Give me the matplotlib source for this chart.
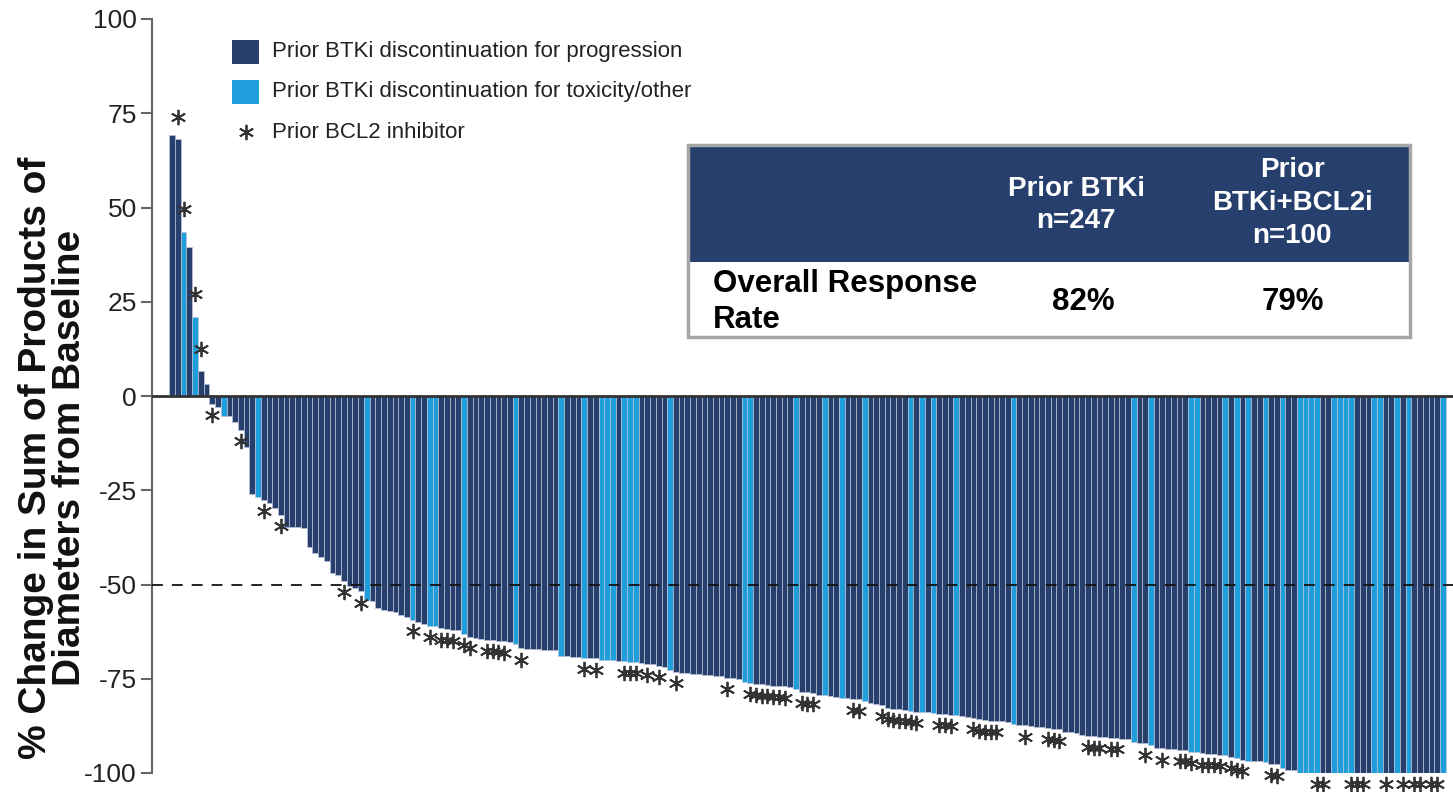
import numpy as np
import matplotlib
matplotlib.use("Agg")
import matplotlib.pyplot as plt
from matplotlib.patches import Rectangle

plt.rcParams['font.family'] = ['Liberation Sans', 'DejaVu Sans']
plt.rcParams['axes.unicode_minus'] = False

# Best % change in SPD from baseline, one bar per patient (sorted)
change = [
    69.2, 68.1, 43.6, 39.6, 21.0, 6.5, 3.3, -2.0, -2.8, -5.3,
    -5.3, -6.8, -9.0, -13.4, -26.1, -26.7, -27.6, -28.5, -29.8, -31.6,
    -34.7, -34.7, -34.8, -35.0, -40.0, -41.7, -42.6, -43.7, -47.0, -47.6,
    -49.0, -50.4, -51.0, -51.8, -54.1, -54.3, -56.3, -56.8, -57.0, -57.3,
    -58.1, -58.7, -59.4, -59.9, -60.6, -60.9, -60.9, -61.6, -61.8, -62.0,
    -62.2, -63.1, -63.8, -64.3, -64.5, -64.6, -64.7, -64.9, -65.1, -65.3,
    -65.8, -66.9, -67.0, -67.1, -67.2, -67.3, -67.4, -67.5, -68.9, -69.0,
    -69.1, -69.2, -69.4, -69.5, -69.6, -69.9, -70.0, -70.1, -70.3, -70.4,
    -70.5, -70.6, -70.9, -71.0, -71.1, -71.6, -71.9, -72.8, -73.1, -73.4,
    -73.6, -73.7, -73.8, -73.9, -74.0, -74.2, -74.4, -74.7, -74.9, -75.0,
    -75.9, -76.0, -76.4, -76.5, -76.7, -76.8, -76.9, -77.0, -77.2, -77.8,
    -78.4, -78.6, -78.8, -79.2, -79.4, -79.6, -79.8, -80.0, -80.1, -80.3,
    -80.5, -80.8, -81.5, -81.7, -82.0, -82.8, -83.0, -83.1, -83.2, -83.5,
    -83.7, -83.8, -83.9, -84.1, -84.3, -84.4, -84.5, -84.7, -84.9, -85.1,
    -85.4, -85.8, -86.0, -86.1, -86.2, -86.3, -86.5, -87.0, -87.3, -87.4,
    -87.5, -87.8, -87.9, -88.0, -88.2, -88.4, -89.0, -89.2, -89.5, -89.8,
    -90.2, -90.3, -90.4, -90.5, -90.6, -90.7, -90.9, -91.0, -91.7, -92.0,
    -92.1, -92.6, -93.3, -93.5, -93.6, -93.7, -93.8, -93.9, -94.3, -94.4,
    -94.8, -94.9, -95.0, -95.1, -95.2, -95.7, -96.1, -96.5, -96.7, -96.8,
    -96.9, -97.2, -97.5, -97.7, -98.6, -99.2, -99.2, -100, -100, -100,
    -100, -100, -100, -100, -100, -100, -100, -100, -100, -100,
    -100, -100, -100, -100, -100, -100, -100, -100, -100, -100,
    -100, -100, -100,
]

# patients who stopped BTKi for toxicity/other (the rest: progression)
toxicity_idx = [2, 4, 9, 15, 34, 42, 45, 46, 51, 60, 68, 72, 75, 76, 77,
                79, 80, 81, 87, 100, 101, 109, 114, 117, 121, 129, 131, 133,
                137, 147, 168, 171, 178, 179, 184, 186, 188, 191, 194, 197,
                198, 199, 200, 203, 204, 205, 206, 210, 211, 214, 216, 222]

# patients with a prior BCL2 inhibitor
bcl2_idx = [1, 2, 4, 5, 7, 12, 16, 19, 30, 33, 42, 45, 47, 48, 49, 51, 52,
            55, 56, 57, 58, 61, 72, 74, 79, 80, 81, 83, 85, 88, 97, 101, 102,
            103, 104, 105, 106, 107, 110, 111, 112, 119, 120, 124, 125, 126,
            127, 128, 129, 130, 134, 135, 136, 140, 141, 142, 143, 144, 149,
            153, 154, 155, 160, 161, 162, 164, 165, 170, 173, 176, 177, 178,
            180, 181, 182, 183, 185, 186, 187, 192, 193, 200, 201, 206, 207,
            208, 212, 215, 217, 218, 220, 221]

legend_labels = ["Prior BTKi discontinuation for progression",
                 "Prior BTKi discontinuation for toxicity/other",
                 "Prior BCL2 inhibitor"]
yticks = [100, 75, 50, 25, 0, -25, -50, -75, -100]

table_header = ["Prior BTKi\nn=247", "Prior\nBTKi+BCL2i\nn=100"]
table_row = ["Overall Response\nRate", "82%", "79%"]

NAVY = "#263f6d"
SKY = "#1e9fdb"
STAR = "#333333"

W, H = 1453, 792
fig = plt.figure(figsize=(W / 100, H / 100), dpi=100)


def fx(px):
    return px / W


def fy(py):
    return 1 - py / H


ax = fig.add_axes([fx(152), fy(773), fx(1453) - fx(152), fy(19) - fy(773)])

x = np.arange(len(change))
vals = np.array(change)
colors = np.array([NAVY] * len(change), dtype=object)
colors[toxicity_idx] = SKY
ax.bar(x, vals, width=1.0, color=list(colors), edgecolor="#b9c3d8",
       linewidth=0.5, zorder=2)

# asterisks sit just past the end of each bar
sx = np.array(bcl2_idx)
sv = vals[sx]
sy = np.where(sv > 0, sv + 6, sv - 3)
ax.plot(sx, sy, linestyle="none", marker=(6, 2, 0), ms=11, mew=1.3,
        color=STAR, clip_on=False, zorder=4)

ax.axhline(0, color="#333333", lw=2, zorder=3)
ax.axhline(-50, color="#111111", lw=1.3, dashes=(6, 5), zorder=3)

ax.set_xlim(-3.52, 223.78)
ax.set_ylim(-100, 100)
ax.set_yticks(yticks)
ax.set_yticklabels([str(t) for t in yticks])
ax.set_xticks([])
for s in ["top", "right", "bottom"]:
    ax.spines[s].set_visible(False)
ax.spines["left"].set_color("#666666")
ax.spines["left"].set_linewidth(1.5)
ax.tick_params(axis="y", direction="out", length=8, width=1.5,
               color="#666666", labelsize=19, labelcolor="#222222", pad=3)

fig.text(fx(53), fy(458), "% Change in Sum of Products of\nDiameters from Baseline",
         rotation=90, ha="center", va="center", multialignment="center",
         fontsize=28, fontweight="bold", linespacing=0.95, color="#111111")

# legend, drawn by hand
for i, (lab, col) in enumerate(zip(legend_labels, [NAVY, SKY, None])):
    yc = 52 + 40 * i
    if col is not None:
        fig.add_artist(Rectangle((fx(232), fy(yc + 12)), fx(27), 24 / H,
                                 transform=fig.transFigure, facecolor=col,
                                 edgecolor="none"))
    else:
        fig.add_artist(plt.Line2D([fx(246)], [fy(yc)], marker=(6, 2, 0),
                                  ms=11, mew=1.3, color=STAR,
                                  transform=fig.transFigure))
    fig.text(fx(272), fy(yc), lab, ha="left", va="center", fontsize=16,
             color="#222222")

# response-rate table
fig.add_artist(Rectangle((fx(688), fy(262)), fx(1410 - 688), 117 / H,
                         transform=fig.transFigure, facecolor=NAVY,
                         edgecolor="none", zorder=5))
fig.add_artist(Rectangle((fx(688), fy(337)), fx(1410 - 688), 192 / H,
                         transform=fig.transFigure, facecolor="none",
                         edgecolor="#a6a6a6", lw=2.5, zorder=6))
fig.text(fx(1076), fy(205), table_header[0], ha="center", va="center",
         multialignment="center", fontsize=20, fontweight="bold",
         color="white", linespacing=1.35, zorder=7)
fig.text(fx(1292), fy(203), table_header[1], ha="center", va="center",
         multialignment="center", fontsize=20, fontweight="bold",
         color="white", linespacing=1.35, zorder=7)
fig.text(fx(713), fy(302), table_row[0], ha="left", va="center",
         fontsize=22.5, fontweight="bold", color="black", linespacing=1.25,
         zorder=7)
fig.text(fx(1083), fy(302), table_row[1], ha="center", va="center",
         fontsize=22.5, fontweight="bold", color="black", zorder=7)
fig.text(fx(1293), fy(302), table_row[2], ha="center", va="center",
         fontsize=22.5, fontweight="bold", color="black", zorder=7)

fig.savefig("out.png", dpi=100)
